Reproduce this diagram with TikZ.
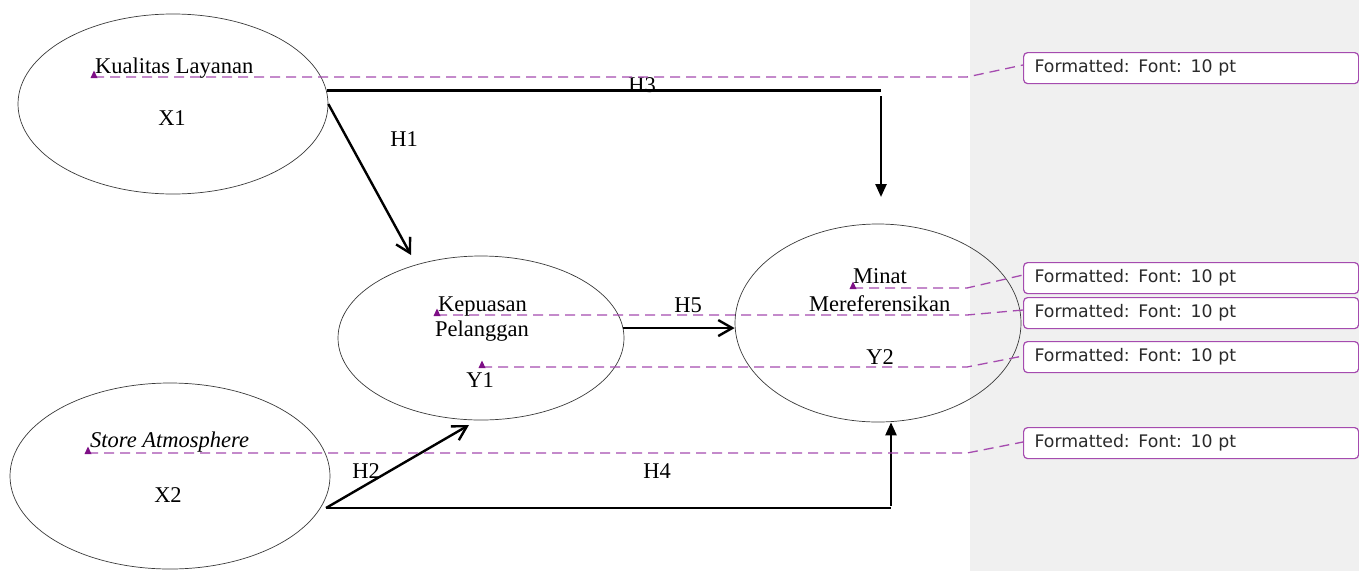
\documentclass[tikz,border=0pt]{standalone}
\usepackage{fontspec}
\setmainfont{Liberation Serif}
\newfontfamily\notefont{DejaVu Sans}
\usetikzlibrary{arrows.meta,shapes.geometric,calc}
\definecolor{margingrey}{HTML}{F0F0F0}
\definecolor{notepurple}{HTML}{A54BAF}
\definecolor{markpurple}{HTML}{7E0F86}
\definecolor{ovalline}{HTML}{3A3A3A}
\definecolor{notetext}{HTML}{2A2A2A}

\begin{document}
\begin{tikzpicture}[x=1pt,y=-1pt,
  construct/.style={ellipse, draw=ovalline, line width=0.7pt, inner sep=0pt},
  lbl/.style={font=\fontsize{22.5}{27}\selectfont, inner sep=0pt},
  hypline/.style={line width=2.4pt, black},
  openhead/.style={hypline, -{Straight Barb[length=14pt,width=16pt]}},
  fillhead/.style={hypline, -{Triangle[length=13pt,width=11pt]}},
  noteline/.style={draw=notepurple, dash pattern=on 10pt off 6pt, line width=1.3pt},
  fmtbox/.style={draw=notepurple, line width=1.2pt, fill=white, rounded corners=4pt,
    minimum height=31pt, text width=313pt, inner xsep=11pt, inner ysep=0pt, align=left,
    text=notetext, font=\notefont\fontsize{17.3}{20}\selectfont, anchor=north west},
  anchormark/.pic={\fill[markpurple] (-3.5,1) -- (3.5,1) -- (0,-6.5) -- cycle;}
]
\useasboundingbox (0,0) rectangle (1359,571);

% margin area on the right
\fill[margingrey] (970,0) rectangle (1359,571);

% latent constructs
\node[construct, minimum width=310pt, minimum height=180pt] (x1) at (173,104) {};
\node[construct, minimum width=320pt, minimum height=186pt] (x2) at (170,476) {};
\node[construct, minimum width=286pt, minimum height=164pt] (y1) at (481,338) {};
\node[construct, minimum width=286pt, minimum height=198pt] (y2) at (878,323) {};

% construct texts
\node[lbl, anchor=base west] (tkl) at (95,73) {Kualitas Layanan};
\node[lbl, anchor=base] (tx1) at (172,125) {X1};
\node[lbl, anchor=base west] (tsa) at (90,447) {\itshape Store Atmosphere};
\node[lbl, anchor=base] (tx2) at (168,502) {X2};
\node[lbl, anchor=base west] (tkp) at (438,311) {Kepuasan};
\node[lbl, anchor=base west] (tpl) at (435,336) {Pelanggan};
\node[lbl, anchor=base] (ty1) at (480,387) {Y1};
\node[lbl, anchor=base west] (tmn) at (853,283) {Minat};
\node[lbl, anchor=base west] (tmr) at (809,311) {Mereferensikan};
\node[lbl, anchor=base] (ty2) at (880,364) {Y2};

% hypothesis labels
\node[lbl, anchor=base] (h1) at (404,146) {H1};
\node[lbl, anchor=base] (h2) at (366,478) {H2};
\node[lbl, anchor=base] (h3) at (642,92) {H3};
\node[lbl, anchor=base] (h4) at (657,478) {H4};
\node[lbl, anchor=base] (h5) at (688,312) {H5};

% path end points
\coordinate (h1tip) at (411,255);
\coordinate (h3c) at (881,92);
\coordinate (h3top) at (881,96);
\coordinate (h3tip) at (881,197);
\coordinate (h24s) at (326,508);
\coordinate (h2tip) at (469,425);
\coordinate (h4c) at (891,508);
\coordinate (h4bot) at (891,506);

% hypothesis paths
\draw[openhead] (x1.east) -- (h1tip);
\draw[hypline] (x1.5) -- (x1.5 -| h3c);
\draw[fillhead] (h3top) -- (h3tip);
\draw[openhead] (h24s) -- (h2tip);
\draw[hypline] (h24s) -- (h4c);
\draw[fillhead] (h4bot) -- (h4bot |- y2.south);
\draw[openhead] (y1.4) -- (y1.4 -| y2.west);

% comment balloons
\node[fmtbox] (c1) at (1023,52) {Formatted: Font: 10 pt};
\node[fmtbox] (c2) at (1023,262) {Formatted: Font: 10 pt};
\node[fmtbox] (c3) at (1023,297) {Formatted: Font: 10 pt};
\node[fmtbox] (c4) at (1023,341) {Formatted: Font: 10 pt};
\node[fmtbox] (c5) at (1023,427) {Formatted: Font: 10 pt};

% comment anchors and leader lines
\coordinate (bend) at (967,0);
\coordinate (m1) at (94,77);
\coordinate (m2) at (853,288);
\coordinate (m3) at (437,315);
\coordinate (m4) at (482,367);
\coordinate (m5) at (88,453);

\draw[noteline] (m1) -- (m1 -| bend) -- ($(c1.north west)+(0,13)$);
\draw[noteline] (m2) -- (m2 -| bend) -- ($(c2.north west)+(0,13)$);
\draw[noteline] (m3) -- (m3 -| bend) -- ($(c3.north west)+(0,13)$);
\draw[noteline] (m4) -- (m4 -| bend) -- ($(c4.north west)+(0,15)$);
\draw[noteline] (m5) -- (m5 -| bend) -- ($(c5.north west)+(0,15)$);

\pic at (m1) {anchormark};
\pic at (m2) {anchormark};
\pic at (m3) {anchormark};
\pic at (m4) {anchormark};
\pic at (m5) {anchormark};
\end{tikzpicture}
\end{document}
